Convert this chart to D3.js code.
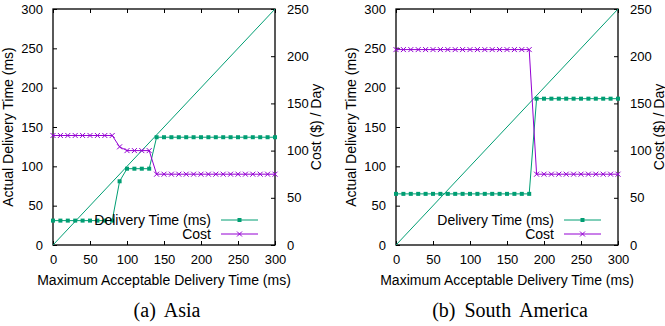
<!DOCTYPE html>
<html>
<head>
<meta charset="utf-8">
<script src="https://cdn.jsdelivr.net/npm/d3@7/dist/d3.min.js"></script>
<style>
  body { margin: 0; background: #fff; }
  svg { display: block; }
  .axis text { font-family: "Liberation Sans", Arial, sans-serif; font-size: 13px; fill: #000; }
  .axis path, .axis line { stroke: #000; }
  .lbl { font-family: "Liberation Sans", Arial, sans-serif; font-size: 14px; fill: #000; }
  .cap { font-family: "Liberation Serif", "Times New Roman", serif; font-size: 20px; word-spacing: 4px; fill: #000; }
</style>
</head>
<body>
<div id="chart"></div>
<script>
// x: maximum acceptable delivery time (ms)
var maxDelay = [0, 10, 20, 30, 40, 50, 60, 70, 80, 90, 100, 110, 120, 130, 140, 150,
  160, 170, 180, 190, 200, 210, 220, 230, 240, 250, 260, 270, 280, 290, 300];

// (a) Asia
var asiaDelivery = [31, 31, 31, 31, 31, 31, 31, 31, 31, 81, 97, 97, 97, 97, 137, 137,
  137, 137, 137, 137, 137, 137, 137, 137, 137, 137, 137, 137, 137, 137, 137];
var asiaCost = [116, 116, 116, 116, 116, 116, 116, 116, 116, 104, 100, 100, 100, 100, 75, 75,
  75, 75, 75, 75, 75, 75, 75, 75, 75, 75, 75, 75, 75, 75, 75];

// (b) South America
var saDelivery = [65, 65, 65, 65, 65, 65, 65, 65, 65, 65, 65, 65, 65, 65, 65, 65,
  65, 65, 65, 186, 186, 186, 186, 186, 186, 186, 186, 186, 186, 186, 186];
var saCost = [207, 207, 207, 207, 207, 207, 207, 207, 207, 207, 207, 207, 207, 207, 207, 207,
  207, 207, 207, 75, 75, 75, 75, 75, 75, 75, 75, 75, 75, 75, 75];

// reference diagonal (actual = maximum)
var diagonal = [0, 300];

var xTicks = [0, 50, 100, 150, 200, 250, 300];
var yTicks = [0, 50, 100, 150, 200, 250, 300];
var costTicks = [0, 50, 100, 150, 200, 250];

var panels = [
  { left: 53, caption: "(a) Asia", delivery: asiaDelivery, cost: asiaCost },
  { left: 396, caption: "(b) South America", delivery: saDelivery, cost: saCost }
];

var green = "#009e73", purple = "#9400d3";

var svg = d3.select("#chart").append("svg")
  .attr("width", 665)
  .attr("height", 326);

var plotW = 222, plotH = 236, plotTop = 9;

panels.forEach(function(p) {
  var w = plotW, h = plotH;
  var g = svg.append("g")
    .attr("transform", "translate(" + p.left + "," + plotTop + ")");

  var x = d3.scaleLinear().domain([0, 300]).range([0, w]);
  var y = d3.scaleLinear().domain([0, 300]).range([h, 0]);
  var y2 = d3.scaleLinear().domain([0, 250]).range([h, 0]);

  // axes with inward ticks
  g.append("g").attr("class", "axis")
    .attr("transform", "translate(0," + h + ")")
    .call(d3.axisBottom(x).tickValues(xTicks).tickSize(-4).tickPadding(10).tickSizeOuter(0));
  g.append("g").attr("class", "axis")
    .call(d3.axisTop(x).tickValues(xTicks).tickSize(-4).tickFormat("").tickSizeOuter(0));
  g.append("g").attr("class", "axis")
    .call(d3.axisLeft(y).tickValues(yTicks).tickSize(-4).tickPadding(10).tickSizeOuter(0));
  g.append("g").attr("class", "axis")
    .attr("transform", "translate(" + w + ",0)")
    .call(d3.axisRight(y2).tickValues(costTicks).tickSize(-4).tickPadding(12).tickSizeOuter(0));

  g.selectAll(".axis .domain").remove();

  // border
  g.append("rect")
    .attr("width", w).attr("height", h)
    .attr("fill", "none").attr("stroke", "#000").attr("stroke-width", 1.3);

  // diagonal
  g.append("line")
    .attr("x1", x(diagonal[0])).attr("y1", y(diagonal[0]))
    .attr("x2", x(diagonal[1])).attr("y2", y(diagonal[1]))
    .attr("stroke", green).attr("stroke-width", 1);

  var lineD = d3.line()
    .x(function(d, i) { return x(maxDelay[i]); })
    .y(function(d) { return y(d); });
  var lineC = d3.line()
    .x(function(d, i) { return x(maxDelay[i]); })
    .y(function(d) { return y2(d); });

  g.append("path").datum(p.delivery)
    .attr("d", lineD).attr("fill", "none").attr("stroke", green).attr("stroke-width", 1);
  g.selectAll(".sq").data(p.delivery).enter().append("rect")
    .attr("x", function(d, i) { return x(maxDelay[i]) - 2; })
    .attr("y", function(d) { return y(d) - 2; })
    .attr("width", 4).attr("height", 4).attr("fill", green);

  g.append("path").datum(p.cost)
    .attr("d", lineC).attr("fill", "none").attr("stroke", purple).attr("stroke-width", 1);
  g.selectAll(".xm").data(p.cost).enter().append("path")
    .attr("transform", function(d, i) { return "translate(" + x(maxDelay[i]) + "," + y2(d) + ")"; })
    .attr("d", "M-2.5,-2.5L2.5,2.5M-2.5,2.5L2.5,-2.5")
    .attr("stroke", purple).attr("stroke-width", 1);

  // legend
  var leg = g.append("g").attr("transform", "translate(0," + 211 + ")");
  leg.append("text").attr("class", "lbl").attr("x", 158).attr("y", 5)
    .attr("text-anchor", "end").text("Delivery Time (ms)");
  leg.append("line").attr("x1", 168).attr("x2", 205).attr("y1", 0).attr("y2", 0)
    .attr("stroke", green).attr("stroke-width", 1);
  leg.append("rect").attr("x", 184.5).attr("y", -2).attr("width", 4).attr("height", 4).attr("fill", green);
  leg.append("text").attr("class", "lbl").attr("x", 158).attr("y", 19)
    .attr("text-anchor", "end").text("Cost");
  leg.append("line").attr("x1", 168).attr("x2", 205).attr("y1", 14).attr("y2", 14)
    .attr("stroke", purple).attr("stroke-width", 1);
  leg.append("path").attr("transform", "translate(186.5,14)")
    .attr("d", "M-2.5,-2.5L2.5,2.5M-2.5,2.5L2.5,-2.5")
    .attr("stroke", purple).attr("stroke-width", 1);

  // axis titles
  g.append("text").attr("class", "lbl")
    .attr("text-anchor", "middle")
    .attr("transform", "translate(" + (w / 2) + "," + (h + 40) + ")")
    .text("Maximum Acceptable Delivery Time (ms)");
  g.append("text").attr("class", "lbl")
    .attr("text-anchor", "middle")
    .attr("transform", "translate(-40," + (h / 2) + ") rotate(-90)")
    .text("Actual Delivery Time (ms)");
  g.append("text").attr("class", "lbl")
    .attr("text-anchor", "middle")
    .attr("transform", "translate(" + (w + 46) + "," + (h / 2) + ") rotate(-90)")
    .text("Cost ($) / Day");

  // caption
  g.append("text").attr("class", "cap")
    .attr("text-anchor", "middle")
    .attr("x", w / 2 + 3).attr("y", h + 72)
    .text(p.caption);
});
</script>
</body>
</html>
